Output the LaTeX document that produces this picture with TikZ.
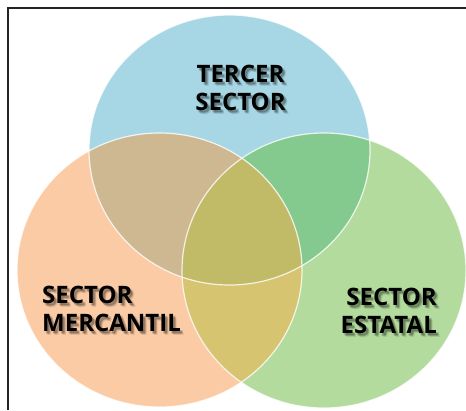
\documentclass[tikz,border=0pt]{standalone}
\usepackage{fontspec}
\setmainfont{Open Sans}

\definecolor{framecol}{RGB}{35,35,35}
\definecolor{bluefill}{RGB}{167,215,228}
\definecolor{orangefill}{RGB}{250,203,164}
\definecolor{greenfill}{RGB}{179,219,157}
\definecolor{bofill}{RGB}{206,184,146}
\definecolor{bgfill}{RGB}{132,201,142}
\definecolor{ogfill}{RGB}{214,196,112}
\definecolor{allfill}{RGB}{193,187,104}

\tikzset{
  sectortxt/.style={font=\bfseries\fontsize{24}{28}\selectfont, text=black, inner sep=0pt},
  sectorshadow/.style={sectortxt, text opacity=0.1},
}

% label with a soft drop shadow: name, anchor, position, text
\newcommand{\sectorlabel}[4]{%
  \foreach \dx/\dy [count=\k] in {1.5/2, 2.5/3, 3.5/4, 2/3.5, 3/2.5}
    \node[sectorshadow, anchor=#2, xshift=\dx pt, yshift=-\dy pt] (#1-s\k) at #3 {#4};
  \node[sectortxt, anchor=#2] (#1) at #3 {#4};
}

\begin{document}
\begin{tikzpicture}[x=1pt,y=-1pt]
    \useasboundingbox (0,0) rectangle (466,410);
    \draw[framecol, line width=2.5pt] (8,410) -- (8,8) -- (466,8);

    % centres of the three sectors
    \coordinate (tercer) at (229.5,150);
    \coordinate (mercantil) at (159.5,270);
    \coordinate (estatal) at (324,270.5);

    % discs
    \fill[bluefill] (tercer) ellipse [x radius=140.5, y radius=135];
    \fill[orangefill] (mercantil) ellipse [x radius=142.5, y radius=137];
    \fill[greenfill] (estatal) ellipse [x radius=142, y radius=137.5];

    % overlaps of two
    \begin{scope}
        \clip (tercer) ellipse [x radius=140.5, y radius=135];
        \fill[bofill] (mercantil) ellipse [x radius=142.5, y radius=137];
        \fill[bgfill] (estatal) ellipse [x radius=142, y radius=137.5];
    \end{scope}
    \begin{scope}
        \clip (mercantil) ellipse [x radius=142.5, y radius=137];
        \fill[ogfill] (estatal) ellipse [x radius=142, y radius=137.5];
    \end{scope}

    % overlap of all three
    \begin{scope}
        \clip (tercer) ellipse [x radius=140.5, y radius=135];
        \clip (mercantil) ellipse [x radius=142.5, y radius=137];
        \fill[allfill] (estatal) ellipse [x radius=142, y radius=137.5];
    \end{scope}

    % rims
    \draw[white, line width=1.2pt, opacity=0.8] (tercer) ellipse [x radius=140.5, y radius=135];
    \draw[white, line width=1.2pt, opacity=0.8] (mercantil) ellipse [x radius=142.5, y radius=137];
    \draw[white, line width=1.2pt, opacity=0.8] (estatal) ellipse [x radius=142, y radius=137.5];

    \sectorlabel{tercer1}{base}{(240.5,82)}{TERCER}
    \sectorlabel{tercer2}{base}{(240.5,110)}{SECTOR}
    \sectorlabel{mercantil1}{base west}{(42,303)}{SECTOR}
    \sectorlabel{mercantil2}{base west}{(42,331)}{MERCANTIL}
    \sectorlabel{estatal1}{base east}{(437,305)}{SECTOR}
    \sectorlabel{estatal2}{base east}{(437,333)}{ESTATAL}
\end{tikzpicture}
\end{document}
